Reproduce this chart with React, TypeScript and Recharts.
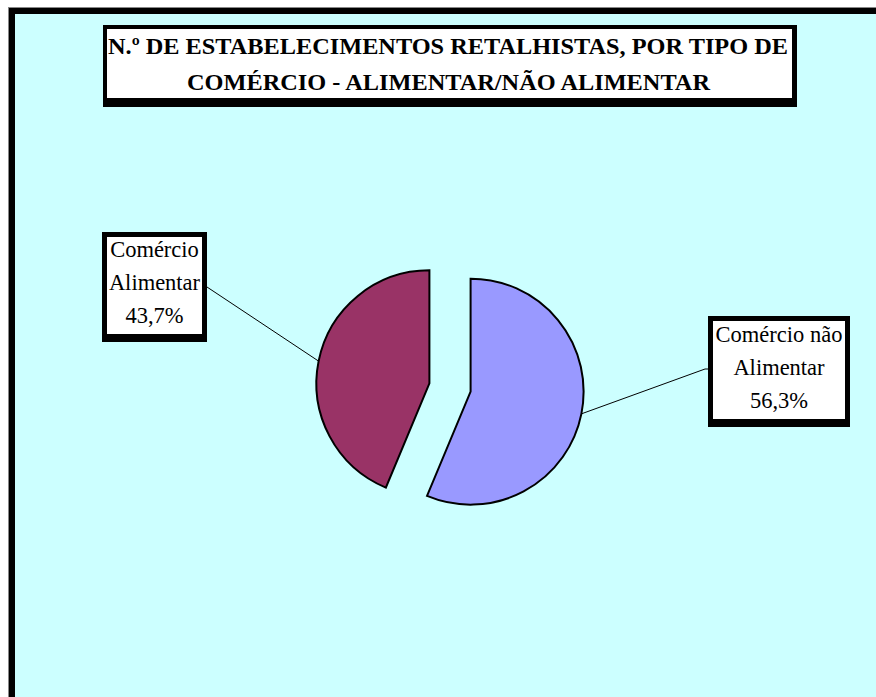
import React from 'react'
import { PieChart, Pie, Cell } from 'recharts'

const categories = ['Comércio não Alimentar', 'Comércio Alimentar']
const shares = [56.3, 43.7]
const colors = ['#9999FF', '#993366']
const labelLines = [['Comércio não', 'Alimentar'], ['Comércio', 'Alimentar']]
const titleLines = [
  'N.º DE ESTABELECIMENTOS RETALHISTAS, POR TIPO DE',
  'COMÉRCIO - ALIMENTAR/NÃO ALIMENTAR',
]

const data = categories.map((name, i) => ({ name, value: shares[i] }))

const W = 876
const H = 697
const CX = 450
const CY = 387.5
const R = 113
const EXPLODE = 21
const RAD = Math.PI / 180
const FONT = "'Liberation Serif', 'DejaVu Serif', serif"

// label boxes (page coords): x, y, w, h, line anchor
const boxes = [
  { x: 708, y: 316, w: 142, h: 111, ax: 705, ay: 369, side: 'right', base: 342 },
  { x: 102, y: 232, w: 105, h: 110, ax: 207, ay: 287, side: 'left', base: 257 },
]

const total = shares.reduce((a, b) => a + b, 0)
const midAngles = shares.map((v, i) => {
  const before = shares.slice(0, i).reduce((a, b) => a + b, 0)
  return 90 - (360 * (before + v / 2)) / total
})

const polar = (cx: number, cy: number, r: number, a: number) => ({
  x: cx + r * Math.cos(-a * RAD),
  y: cy + r * Math.sin(-a * RAD),
})

function makeLabel(show: number) {
  return (props: any) => {
    const { cx, cy, midAngle, outerRadius, index } = props
    if (index !== show) return null
    const b = boxes[index]
    const p = polar(cx, cy, outerRadius, midAngle)
    const pct = shares[index].toFixed(1).replace('.', ',') + '%'
    const lines = [...labelLines[index], pct]
    const tx = b.x + b.w / 2
    const pts =
      b.side === 'right'
        ? `${p.x},${p.y} ${b.ax},${b.ay} ${b.x},${b.ay}`
        : `${p.x},${p.y} ${b.ax},${b.ay}`
    return (
      <g key={'lbl' + index}>
        <polyline points={pts} fill="none" stroke="#000" strokeWidth={1} />
        <rect x={b.x} y={b.y} width={b.w} height={b.h} fill="#000" />
        <rect x={b.x + 5} y={b.y + 5} width={b.w - 10} height={b.h - 13} fill="#fff" />
        {lines.map((t, k) => (
          <text
            key={k}
            x={tx}
            y={b.base + k * 33}
            textAnchor="middle"
            style={{ fontFamily: FONT, fontSize: 22.5 }}
            fill="#000"
          >
            {t}
          </text>
        ))}
      </g>
    )
  }
}

export default function App() {
  return (
    <div style={{ position: 'fixed', left: 0, top: 0, width: W, height: H, overflow: 'hidden', background: '#fff' }}>
      <div
        style={{
          position: 'absolute',
          left: 8,
          top: 7,
          width: 920,
          height: 740,
          border: '1px solid #888',
          boxSizing: 'border-box',
        }}
      >
        <div style={{ width: '100%', height: '100%', border: '6px solid #000', boxSizing: 'border-box', background: '#CCFFFF' }} />
      </div>
      <div
        style={{
          position: 'absolute',
          left: 103,
          top: 25,
          width: 694,
          height: 82,
          background: '#000',
        }}
      >
        <div style={{ position: 'absolute', left: 4, top: 4, width: 685, height: 69, background: '#fff' }} />
      </div>
      <svg style={{ position: 'absolute', left: 0, top: 0 }} width={W} height={H}>
        <text x={448} y={54} textAnchor="middle" style={{ fontFamily: FONT, fontWeight: 'bold', fontSize: 23 }} textLength={680} lengthAdjust="spacingAndGlyphs">
          {titleLines[0]}
        </text>
        <text x={448.5} y={90} textAnchor="middle" style={{ fontFamily: FONT, fontWeight: 'bold', fontSize: 23 }} textLength={523} lengthAdjust="spacingAndGlyphs">
          {titleLines[1]}
        </text>
      </svg>
      <div style={{ position: 'absolute', left: 0, top: 0 }}>
        <PieChart width={W} height={H} margin={{ top: 0, right: 0, bottom: 0, left: 0 }}>
          {data.map((_, s) => {
            const off = polar(0, 0, EXPLODE, midAngles[s])
            return (
              <Pie
                key={s}
                data={data}
                dataKey="value"
                cx={CX + off.x}
                cy={CY + off.y}
                outerRadius={R}
                startAngle={90}
                endAngle={-270}
                stroke="#000"
                strokeWidth={2}
                label={makeLabel(s)}
                labelLine={false}
                isAnimationActive={false}
              >
                {data.map((d, i) => (
                  <Cell
                    key={d.name}
                    fill={i === s ? colors[i] : 'transparent'}
                    stroke={i === s ? '#000' : 'none'}
                  />
                ))}
              </Pie>
            )
          })}
        </PieChart>
      </div>
    </div>
  )
}
